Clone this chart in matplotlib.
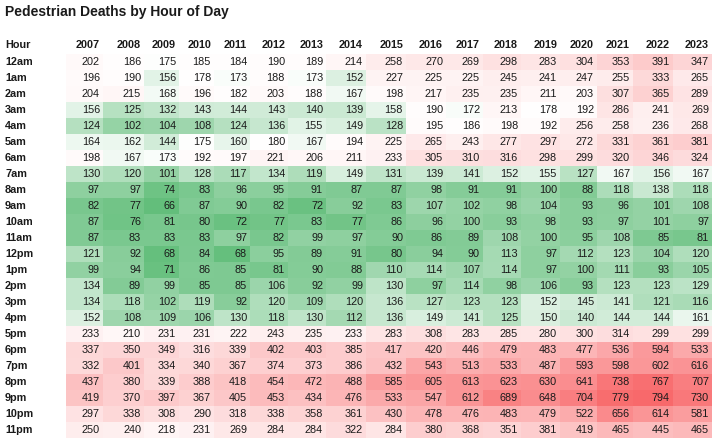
import numpy as np
import matplotlib
matplotlib.use("Agg")
import matplotlib.pyplot as plt
from matplotlib.colors import LinearSegmentedColormap, TwoSlopeNorm

years = [str(y) for y in range(2007, 2024)]
hours = ["12am", "1am", "2am", "3am", "4am", "5am", "6am", "7am", "8am", "9am",
         "10am", "11am", "12pm", "1pm", "2pm", "3pm", "4pm", "5pm", "6pm", "7pm",
         "8pm", "9pm", "10pm", "11pm"]

deaths = [
    [202, 186, 175, 185, 184, 190, 189, 214, 258, 270, 269, 298, 283, 304, 353, 391, 347],
    [196, 190, 156, 178, 173, 188, 173, 152, 227, 225, 225, 245, 241, 247, 255, 333, 265],
    [204, 215, 168, 196, 182, 203, 188, 167, 198, 217, 235, 235, 211, 203, 307, 365, 289],
    [156, 125, 132, 143, 144, 143, 140, 139, 158, 190, 172, 213, 178, 192, 286, 241, 269],
    [124, 102, 104, 108, 124, 136, 155, 149, 128, 195, 186, 198, 192, 256, 258, 236, 268],
    [164, 162, 144, 175, 160, 180, 167, 194, 225, 265, 243, 277, 297, 272, 331, 361, 381],
    [198, 167, 173, 192, 197, 221, 206, 211, 233, 305, 310, 316, 298, 299, 320, 346, 324],
    [130, 120, 101, 128, 117, 134, 119, 149, 131, 139, 141, 152, 155, 127, 167, 156, 167],
    [97, 97, 74, 83, 96, 95, 91, 87, 87, 98, 91, 91, 100, 88, 118, 138, 118],
    [82, 77, 66, 87, 90, 82, 72, 92, 83, 107, 102, 98, 104, 93, 96, 101, 108],
    [87, 76, 81, 80, 72, 77, 83, 77, 86, 96, 100, 93, 98, 93, 97, 101, 97],
    [87, 83, 83, 83, 97, 82, 99, 97, 90, 86, 89, 108, 100, 95, 108, 85, 81],
    [121, 92, 68, 84, 68, 95, 89, 91, 80, 94, 90, 113, 97, 112, 123, 104, 120],
    [99, 94, 71, 86, 85, 81, 90, 88, 110, 114, 107, 114, 97, 100, 111, 93, 105],
    [134, 89, 99, 85, 85, 106, 92, 99, 130, 97, 114, 98, 106, 93, 123, 123, 129],
    [134, 118, 102, 119, 92, 120, 109, 120, 136, 127, 123, 123, 152, 145, 141, 121, 116],
    [152, 108, 109, 106, 130, 118, 130, 112, 136, 149, 141, 125, 150, 140, 144, 144, 161],
    [233, 210, 231, 231, 222, 243, 235, 233, 283, 308, 283, 285, 280, 300, 314, 299, 299],
    [337, 350, 349, 316, 339, 402, 403, 385, 417, 420, 446, 479, 483, 477, 536, 594, 533],
    [332, 401, 334, 340, 367, 374, 373, 386, 432, 543, 513, 533, 487, 593, 598, 602, 616],
    [437, 380, 339, 388, 418, 454, 472, 488, 585, 605, 613, 623, 630, 641, 738, 767, 707],
    [419, 370, 397, 367, 405, 453, 434, 476, 533, 547, 612, 689, 648, 704, 779, 794, 730],
    [297, 338, 308, 290, 318, 338, 358, 361, 430, 478, 476, 483, 479, 522, 656, 614, 581],
    [250, 240, 218, 231, 269, 284, 284, 322, 284, 380, 368, 351, 381, 419, 465, 445, 465],
]

vals = np.array(deaths, dtype=float)

# table layout in pixels (auto-width columns like the source table)
col_right = np.array([103, 144, 179, 214, 250, 288, 326, 366, 406, 446,
                      483, 521, 560, 597, 633, 673, 712])
x_edges = np.concatenate([[66], col_right])
row_h = 16
y_top = 54
y_edges = y_top + row_h * np.arange(len(hours) + 1)

# Excel-style 3-colour scale: min green, median white, max red
cmap = LinearSegmentedColormap.from_list("gwr", ["#63BE7B", "#FFFFFF", "#F8696B"])
norm = TwoSlopeNorm(vmin=vals.min(), vcenter=np.median(vals), vmax=vals.max())

fig = plt.figure(figsize=(7.2, 4.44), dpi=100)
ax = fig.add_axes([0, 0, 1, 1])
ax.set_xlim(0, 720)
ax.set_ylim(444, 0)
ax.axis("off")

ax.pcolormesh(x_edges, y_edges, vals, cmap=cmap, norm=norm, shading="flat")

font = ["Liberation Sans", "DejaVu Sans"]
txt = "#1a1a1a"
ax.text(5, 12, "Pedestrian Deaths by Hour of Day", fontsize=10, fontweight="bold",
        family=font, color=txt, va="center", ha="left")

head_y = 45
ax.text(5, head_y, "Hour", fontsize=7.8, fontweight="bold", family=font,
        color=txt, va="center", ha="left")
for j, yr in enumerate(years):
    ax.text(col_right[j] - 3, head_y, yr, fontsize=7.8, fontweight="bold",
            family=font, color=txt, va="center", ha="right")

for i, h in enumerate(hours):
    yc = (y_edges[i] + y_edges[i + 1]) / 2
    ax.text(5, yc, h, fontsize=7.8, fontweight="bold", family=font,
            color=txt, va="center", ha="left")
    for j in range(len(years)):
        ax.text(col_right[j] - 3, yc, str(deaths[i][j]), fontsize=7.8,
                family=font, color=txt, va="center", ha="right")

fig.savefig("out.png", dpi=100)
